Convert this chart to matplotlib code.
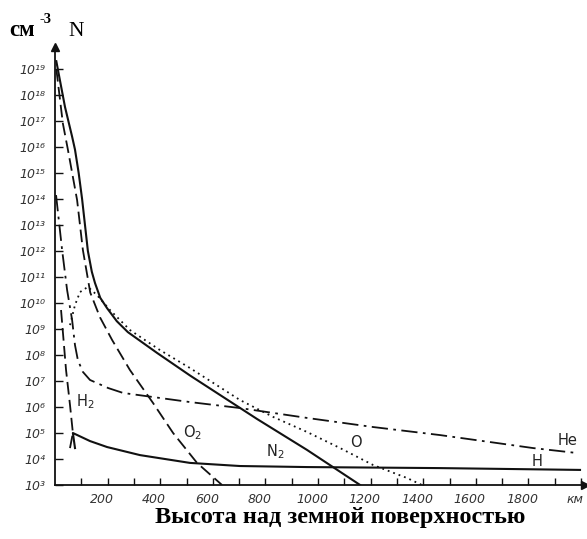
import matplotlib
matplotlib.use("Agg")
import matplotlib.pyplot as plt
import matplotlib.transforms as mtransforms
import numpy as np

# altitude in km, density as log10(N / cm^-3)
n2_km = [5, 38, 65, 76, 90, 103, 125, 140, 152, 172, 198, 235, 277, 388, 515, 768, 958, 1160]
n2_log = [19.3, 17.54, 16.4, 15.9, 15.0, 14.0, 12.0, 11.2, 10.77, 10.2, 9.8, 9.3, 8.88, 8.08, 7.2, 5.54, 4.35, 3.0]

o2_km = [5, 30, 49, 84, 106, 134, 171, 217, 285, 373, 449, 540, 635]
o2_log = [19.0, 16.9, 15.9, 13.96, 12.04, 10.4, 9.45, 8.58, 7.42, 6.15, 5.0, 3.85, 3.0]

o_km = [57, 76, 95, 125, 160, 209, 285, 399, 513, 703, 829, 958, 1084, 1209, 1338, 1395]
o_log = [9.15, 9.92, 10.42, 10.62, 10.3, 9.73, 8.96, 8.19, 7.5, 6.27, 5.62, 5.04, 4.42, 3.77, 3.27, 3.0]

he_km = [4, 27, 46, 65, 76, 87, 106, 133, 202, 259, 513, 703, 958, 1209, 1464, 1818, 1985]
he_log = [14.15, 12.04, 10.5, 9.35, 8.38, 7.8, 7.35, 7.04, 6.73, 6.54, 6.19, 5.96, 5.58, 5.23, 4.92, 4.42, 4.23]

h2_km = [23, 42, 57, 68, 57]
h2_log = [9.73, 7.42, 6.08, 5.0, 4.42]

h_km = [76, 68, 133, 198, 323, 513, 703, 958, 1464, 1996]
h_log = [4.42, 5.0, 4.69, 4.46, 4.15, 3.85, 3.73, 3.69, 3.65, 3.58]

decades = list(range(3, 20))
sup = str.maketrans("0123456789", "⁰¹²³⁴⁵⁶⁷⁸⁹")
y_labels = ["10" + str(k).translate(sup) for k in decades]
x_major = list(range(200, 2001, 200))
x_labels = [str(v) for v in x_major[:-1]] + ["км"]

# curve name labels: (text, km, log10 N)
curve_labels = [
    ("H$_2$", 114, 6.19),
    ("O$_2$", 522, 5.0),
    ("N$_2$", 836, 4.3),
    ("O", 1144, 4.65),
    ("He", 1950, 4.7),
    ("H", 1833, 3.92),
]

fig = plt.figure(figsize=(5.87, 5.39), dpi=100)
ax = fig.add_axes([55 / 587, 54 / 539, 530 / 587, 438 / 539])
ax.set_yscale("log")
ax.set_xlim(0, 2015)
ax.set_ylim(1e3, 10 ** 19.846)

lc = "#111111"
ax.plot(n2_km, 10.0 ** np.array(n2_log), color=lc, lw=1.5)
ax.plot(o2_km, 10.0 ** np.array(o2_log), color=lc, lw=1.3, dashes=(7, 3))
ax.plot(o_km, 10.0 ** np.array(o_log), color=lc, lw=1.3, dashes=(1, 2.2))
ax.plot(he_km, 10.0 ** np.array(he_log), color=lc, lw=1.3, dashes=(9, 3, 1.5, 3))
ax.plot(h2_km, 10.0 ** np.array(h2_log), color=lc, lw=1.3, dashes=(7, 3))
ax.plot(h_km, 10.0 ** np.array(h_log), color=lc, lw=1.5)

for txt, km, lg in curve_labels:
    ax.text(km, 10.0 ** lg, txt, fontsize=10.5, color="#222222",
            ha="center", va="center", family="DejaVu Sans")

# axes with arrows
for s in ["top", "right"]:
    ax.spines[s].set_visible(False)
for s in ["left", "bottom"]:
    ax.spines[s].set_linewidth(1.3)
    ax.spines[s].set_color(lc)
ax.plot(1, 0, ">", color=lc, ms=6, transform=ax.transAxes, clip_on=False)
ax.plot(0, 1, "^", color=lc, ms=6, transform=ax.transAxes, clip_on=False)

ax.set_yticks([10.0 ** k for k in decades])
ax.set_yticklabels(y_labels)
ax.yaxis.set_minor_locator(matplotlib.ticker.NullLocator())
ax.set_xticks(x_major)
ax.set_xticklabels(x_labels)
ax.set_xticks(list(range(100, 2000, 200)), minor=True)
ax.tick_params(axis="both", which="both", direction="in", color=lc, width=1)
ax.tick_params(axis="y", length=6, pad=7, labelsize=9, labelcolor="#333333")
ax.tick_params(axis="x", which="both", length=5, pad=6, labelsize=9, labelcolor="#333333")
shift = mtransforms.ScaledTranslation(-0.06, 0, fig.dpi_scale_trans)
for lab in ax.get_xticklabels() + ax.get_yticklabels():
    lab.set_style("italic")
for lab in ax.get_xticklabels():
    lab.set_transform(lab.get_transform() + shift)

# header and axis title
fig.text(9 / 587, 1 - 36 / 539, "см", fontsize=16.5, fontweight="bold",
         family="Liberation Serif", va="baseline")
fig.text(39 / 587, 1 - 23 / 539, "-3", fontsize=10.5, fontweight="bold",
         family="Liberation Serif", va="baseline")
fig.text(68 / 587, 1 - 36 / 539, "N", fontsize=15.5, family="Liberation Serif",
         va="baseline")
fig.text(340 / 587, 1 - 517 / 539, "Высота над земной поверхностью", fontsize=17.5,
         fontweight="bold", family="Liberation Serif", ha="center", va="center")

fig.savefig("out.png", dpi=100)
